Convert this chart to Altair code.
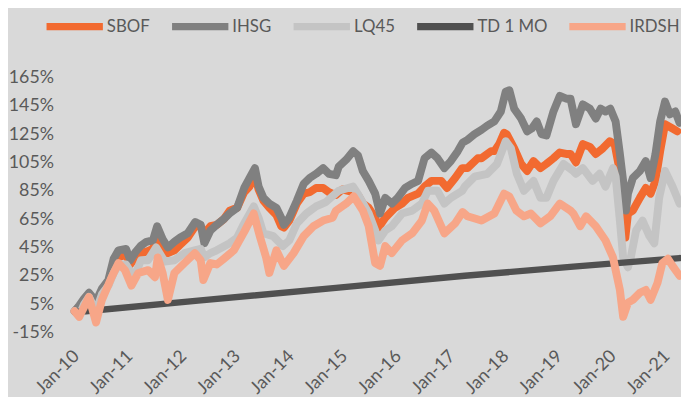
import altair as alt
import pandas as pd

# ---------------- data ----------------
series_order = ["SBOF", "IHSG", "LQ45", "TD 1 MO", "IRDSH"]
series_colors = ["#F26A30", "#808080", "#C4C4C4", "#505050", "#F7A688"]

# dates are decimal years, values are cumulative return in %
ihsg_t = [2009.97, 2010.06, 2010.15, 2010.24, 2010.37, 2010.48, 2010.60, 2010.70, 2010.79, 2010.93,
          2011.01, 2011.11, 2011.20, 2011.31, 2011.43, 2011.51, 2011.61, 2011.71, 2011.83, 2011.94,
          2012.08, 2012.22, 2012.32, 2012.39, 2012.50, 2012.62, 2012.75, 2012.86, 2013.00, 2013.13,
          2013.23, 2013.33, 2013.40, 2013.49, 2013.60, 2013.73, 2013.82, 2013.87, 2013.97, 2014.11,
          2014.24, 2014.35, 2014.47, 2014.60, 2014.71, 2014.84, 2014.89, 2015.03, 2015.16, 2015.25,
          2015.34, 2015.45, 2015.57, 2015.66, 2015.76, 2015.88, 2015.99, 2016.13, 2016.26, 2016.37,
          2016.49, 2016.62, 2016.73, 2016.86, 2016.98, 2017.11, 2017.20, 2017.29, 2017.42, 2017.55,
          2017.66, 2017.79, 2017.91, 2018.00, 2018.07, 2018.16, 2018.29, 2018.40, 2018.49, 2018.58,
          2018.67, 2018.76, 2018.89, 2019.01, 2019.13, 2019.21, 2019.31, 2019.44, 2019.57, 2019.68,
          2019.77, 2019.86, 2019.95, 2020.05, 2020.13, 2020.19, 2020.24, 2020.28, 2020.37, 2020.50,
          2020.61, 2020.70, 2020.79, 2020.88, 2020.97, 2021.06, 2021.16, 2021.24]
ihsg_v = [0, 4, 9, 13, 7, 16, 22, 37, 43, 44,
          36, 42, 46, 49, 50, 60, 51, 45, 49, 52,
          55, 63, 61, 48, 57, 61, 65, 69, 73, 87,
          94, 101, 88, 80, 76, 73, 66, 61, 66, 78,
          90, 94, 97, 101, 97, 96, 102, 107, 113, 110,
          99, 92, 83, 69, 80, 76, 80, 87, 90, 92,
          108, 112, 108, 101, 106, 113, 119, 121, 125, 128,
          131, 134, 141, 155, 156, 143, 136, 127, 129, 134,
          125, 124, 141, 152, 150, 150, 132, 146, 143, 136,
          143, 141, 143, 134, 111, 92, 71, 83, 94, 99,
          106, 94, 111, 134, 148, 139, 141, 133]

sbof_t = [2009.97, 2010.06, 2010.15, 2010.24, 2010.37, 2010.48, 2010.60, 2010.70, 2010.79, 2010.93,
          2011.01, 2011.11, 2011.20, 2011.31, 2011.43, 2011.51, 2011.61, 2011.71, 2011.83, 2011.94,
          2012.08, 2012.22, 2012.32, 2012.39, 2012.50, 2012.62, 2012.75, 2012.86, 2013.00, 2013.13,
          2013.23, 2013.33, 2013.40, 2013.49, 2013.60, 2013.73, 2013.82, 2013.87, 2013.97, 2014.11,
          2014.24, 2014.35, 2014.47, 2014.60, 2014.71, 2014.84, 2014.96, 2015.16, 2015.25, 2015.34,
          2015.45, 2015.57, 2015.63, 2015.76, 2015.94, 2016.07, 2016.18, 2016.37, 2016.49, 2016.62,
          2016.80, 2016.91, 2017.06, 2017.19, 2017.29, 2017.48, 2017.55, 2017.73, 2017.79, 2017.88,
          2017.97, 2018.02, 2018.16, 2018.29, 2018.40, 2018.52, 2018.65, 2018.76, 2018.89, 2019.01,
          2019.13, 2019.21, 2019.31, 2019.44, 2019.57, 2019.68, 2019.81, 2019.94, 2020.03, 2020.10,
          2020.15, 2020.23, 2020.28, 2020.37, 2020.50, 2020.61, 2020.70, 2020.79, 2020.88, 2020.97,
          2021.11, 2021.20]
sbof_v = [0, 3, 7, 10, 5, 13, 19, 32, 38, 40,
          33, 38, 41, 42, 44, 52, 47, 41, 43, 47,
          52, 60, 60, 55, 60, 61, 65, 71, 73, 84,
          88, 96, 86, 78, 73, 68, 60, 59, 64, 76,
          83, 84, 87, 87, 84, 82, 86, 84, 82, 76,
          73, 66, 59, 66, 73, 76, 80, 83, 88, 92,
          92, 87, 94, 101, 101, 108, 108, 113, 113, 118,
          126, 125, 115, 104, 99, 106, 101, 104, 108, 112,
          111, 111, 105, 118, 116, 111, 115, 120, 118, 104,
          87, 52, 69, 71, 80, 87, 83, 92, 113, 132,
          129, 127]

lq45_t = [2009.97, 2010.06, 2010.15, 2010.24, 2010.37, 2010.48, 2010.60, 2010.70, 2010.79, 2010.93,
          2011.01, 2011.11, 2011.21, 2011.34, 2011.49, 2011.65, 2011.83, 2012.02, 2012.21, 2012.32,
          2012.39, 2012.50, 2012.62, 2012.86, 2013.00, 2013.13, 2013.31, 2013.40, 2013.49, 2013.67,
          2013.85, 2013.97, 2014.11, 2014.29, 2014.47, 2014.65, 2014.89, 2015.16, 2015.26, 2015.45,
          2015.57, 2015.63, 2015.76, 2015.88, 2016.07, 2016.26, 2016.44, 2016.55, 2016.73, 2016.86,
          2016.98, 2017.19, 2017.24, 2017.42, 2017.66, 2017.84, 2018.00, 2018.10, 2018.21, 2018.34,
          2018.52, 2018.65, 2018.76, 2018.89, 2019.08, 2019.26, 2019.31, 2019.44, 2019.62, 2019.75,
          2019.86, 2020.00, 2020.05, 2020.13, 2020.19, 2020.28, 2020.33, 2020.43, 2020.55, 2020.68,
          2020.77, 2020.86, 2020.97, 2021.11, 2021.24]
lq45_v = [0, -3, 5, 10, 0, 12, 18, 27, 33, 33,
          28, 27, 36, 36, 45, 35, 36, 41, 43, 44,
          38, 41, 43, 48, 52, 62, 74, 66, 55, 53,
          46, 50, 62, 69, 74, 77, 85, 88, 82, 69,
          57, 50, 57, 60, 69, 71, 76, 85, 85, 76,
          80, 85, 88, 95, 97, 104, 120, 115, 97, 85,
          92, 80, 80, 92, 104, 99, 97, 101, 92, 97,
          88, 101, 95, 64, 38, 31, 38, 57, 64, 53,
          48, 80, 99, 88, 76]

td_t = [2009.97, 2010.18, 2012.27, 2014.84, 2017.24, 2019.26, 2021.24]
td_v = [-0.5, 0, 7.5, 16.5, 25, 31.5, 37.5]

irdsh_t = [2009.97, 2010.06, 2010.15, 2010.24, 2010.37, 2010.48, 2010.66, 2010.79, 2010.91, 2011.03,
           2011.16, 2011.34, 2011.47, 2011.52, 2011.61, 2011.71, 2011.83, 2012.02, 2012.21, 2012.32,
           2012.37, 2012.50, 2012.62, 2012.75, 2012.94, 2013.13, 2013.31, 2013.42, 2013.54, 2013.60,
           2013.73, 2013.87, 2014.05, 2014.24, 2014.42, 2014.60, 2014.78, 2014.84, 2015.03, 2015.17,
           2015.34, 2015.45, 2015.57, 2015.66, 2015.76, 2015.88, 2016.07, 2016.26, 2016.44, 2016.55,
           2016.67, 2016.86, 2017.06, 2017.20, 2017.29, 2017.55, 2017.79, 2017.97, 2018.07, 2018.20,
           2018.34, 2018.47, 2018.65, 2018.83, 2019.01, 2019.21, 2019.26, 2019.39, 2019.50, 2019.68,
           2019.86, 2020.00, 2020.05, 2020.13, 2020.19, 2020.28, 2020.37, 2020.50, 2020.61, 2020.70,
           2020.83, 2020.92, 2021.02, 2021.11, 2021.24]
irdsh_v = [0, -4, 3, 10, -8, 8, 24, 34, 29, 18,
           27, 29, 24, 38, 27, 8, 27, 34, 41, 36,
           22, 34, 33, 37, 43, 56, 69, 53, 38, 27,
           43, 32, 41, 53, 60, 64, 66, 71, 76, 81,
           71, 60, 34, 32, 46, 41, 50, 55, 64, 76,
           71, 55, 62, 70, 67, 64, 69, 83, 81, 71,
           67, 69, 62, 67, 76, 71, 69, 60, 67, 60,
           50, 38, 29, 15, -4, 6, 8, 13, 15, 8,
           20, 34, 37, 32, 25]

year_ticks = list(range(2010, 2022))
y_ticks = [-15, 5, 25, 45, 65, 85, 105, 125, 145, 165]

# ---------------- table ----------------
def to_date(t):
    ts = pd.Timestamp(2010, 1, 1) + pd.to_timedelta((t - 2010) * 365.25, unit="D")
    return ts.strftime("%Y/%m/%d")

rows = []
for name, ts, vs in [("SBOF", sbof_t, sbof_v), ("IHSG", ihsg_t, ihsg_v), ("LQ45", lq45_t, lq45_v),
                     ("TD 1 MO", td_t, td_v), ("IRDSH", irdsh_t, irdsh_v)]:
    for t, v in zip(ts, vs):
        rows.append({"series": name, "date": to_date(t), "value": v})
df = pd.DataFrame(rows)

FONT = "Lato"
TXT = "#595959"
FS = 18

color = alt.Color(
    "series:N",
    scale=alt.Scale(domain=series_order, range=series_colors),
    legend=alt.Legend(
        orient="none", legendX=-34, legendY=-84, direction="horizontal",
        gridAlign="none", title=None, symbolType="stroke", symbolSize=3249,
        symbolStrokeWidth=7.5, labelFontSize=17, labelFont=FONT, labelColor=TXT,
        columnPadding=7, labelOffset=0, padding=0,
    ),
)

x = alt.X(
    "date:T",
    scale=alt.Scale(domain=[alt.DateTime(year=2010, month=1, date=1),
                            alt.DateTime(year=2021, month=4, date=1)]),
    axis=alt.Axis(
        values=[alt.DateTime(year=y, month=1, date=1) for y in year_ticks],
        format="%b-%y", labelAngle=-45, labelAlign="right", labelBaseline="middle",
        labelPadding=21, title=None, domain=False, ticks=False, grid=False,
        labelFontSize=FS, labelFont=FONT, labelColor=TXT, labelOverlap=False,
    ),
)
y = alt.Y(
    "value:Q",
    scale=alt.Scale(domain=[-15, 165], nice=False, zero=False),
    axis=alt.Axis(
        values=y_ticks, labelExpr="datum.value + '%'", title=None, domain=False,
        ticks=False, grid=False, labelPadding=23, labelFontSize=FS, labelFont=FONT,
        labelColor=TXT,
    ),
)

layers = []
for name in series_order:
    sw = 6.5 if name == "TD 1 MO" else 8
    layers.append(
        alt.Chart(df)
        .transform_filter(alt.datum.series == name)
        .mark_line(strokeWidth=sw, strokeCap="round", strokeJoin="round")
        .encode(x=x, y=y, color=color)
    )

chart = (
    alt.layer(*layers)
    .properties(width=611, height=258, background="#D9D9D9",
                padding={"left": 69, "top": 68, "right": 1, "bottom": 63},
                autosize="none")
    .configure_view(strokeWidth=0)
)

chart.save("out.html", embed_options={"renderer": "svg", "actions": False})
